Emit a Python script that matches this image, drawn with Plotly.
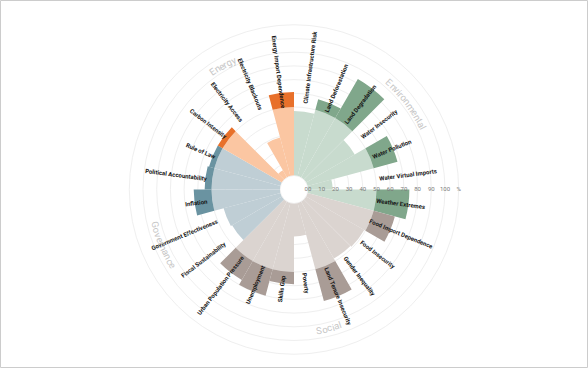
import math
import plotly.graph_objects as go

# ---------------- data ----------------
env_categories = ["Climate Infrastructure Risk", "Land Deforestation", "Land Degradation",
                  "Water Insecurity", "Water Pollution", "Water Virtual Imports", "Weather Extremes"]
env_values = [47, 58, 83, 41, 68, 18, 74]

soc_categories = ["Food Import Dependence", "Food Insecurity", "Gender Inequality",
                  "Land Tenure Insecurity", "Poverty", "Skills Gap", "Unemployment",
                  "Urban Population Pressure"]
soc_values = [66, 49, 48, 74, 24, 59, 70, 66]

gov_categories = ["Fiscal Sustainability", "Government Effectiveness", "Inflation",
                  "Political Accountability", "Rule of Law"]
gov_values = [42, 43, 63, 55, 54]

ene_categories = ["Carbon Intensity", "Electricity Access", "Electricity Blackouts",
                  "Energy Import Dependence"]
ene_values = [54, 6, 29, 61]

group_names = ["Environmental", "Social", "Governance", "Energy"]
threshold = 50

tick_values = [0, 10, 20, 30, 40, 50, 60, 70, 80, 90, 100, 110]
tick_labels = ["00", "10", "20", "30", "40", "50", "60", "70", "80", "90", "100", "%"]

# ---------------- styles / layout constants ----------------
light_colors = {"Environmental": "#c8dbce", "Social": "#dbd4d0",
                "Governance": "#bfced5", "Energy": "#fbc6a2"}
dark_colors = {"Environmental": "#80a78b", "Social": "#a99c96",
               "Governance": "#6a93a1", "Energy": "#e8702a"}
group_label_angle = {"Environmental": 52.8, "Social": 165.8, "Governance": 247.0, "Energy": 330.0}

W, H = 588, 368
CX, CY = 294.0, 189.5
R_HOLE = 14.0
PX_PER_UNIT = 1.37
R_MAX = 110
R_OUT = R_HOLE + PX_PER_UNIT * R_MAX
STEP = 15.0

groups = [
    ("Environmental", env_categories, env_values),
    ("Social", soc_categories, soc_values),
    ("Governance", gov_categories, gov_values),
    ("Energy", ene_categories, ene_values),
]


def to_paper(phi_deg, r_px):
    p = math.radians(phi_deg)
    x = CX + r_px * math.sin(p)
    y = CY - r_px * math.cos(p)
    return x / W, 1 - y / H


fig = go.Figure()
annotations = []

idx = 0
for gname, cats, vals in groups:
    thetas = [STEP / 2 + STEP * (idx + k) for k in range(len(cats))]
    base_r = [min(v, threshold) for v in vals]
    excess_r = [max(v - threshold, 0) for v in vals]
    fig.add_trace(go.Barpolar(r=base_r, theta=thetas, width=[STEP] * len(cats),
                              marker=dict(color=light_colors[gname], line=dict(width=0)),
                              name=gname, hoverinfo="skip", showlegend=False))
    fig.add_trace(go.Barpolar(r=excess_r, theta=thetas, width=[STEP] * len(cats),
                              base=[threshold] * len(cats),
                              marker=dict(color=dark_colors[gname], line=dict(width=0)),
                              name=gname, hoverinfo="skip", showlegend=False))
    # category labels
    for name, phi in zip(cats, thetas):
        rc = 86 + 1.36 * len(name)
        x, y = to_paper(phi, rc)
        ang = phi - 90 if phi < 180 else phi - 270
        annotations.append(dict(x=x, y=y, xref="paper", yref="paper", text=name,
                                showarrow=False, textangle=ang, xanchor="center", yanchor="middle",
                                font=dict(family="Roboto", size=6, color="#151515", weight="bold")))
    idx += len(cats)

# radial tick labels along the 90 degree direction
fig.add_trace(go.Scatterpolar(r=tick_values, theta=[90] * len(tick_values), mode="text",
                              text=tick_labels, cliponaxis=False,
                              textfont=dict(family="Roboto", size=6, color="#7a7a7a"),
                              hoverinfo="skip", showlegend=False))

# curved group labels
char_w = {'E': 0.56, 'n': 0.552, 'e': 0.53, 'r': 0.338, 'g': 0.561, 'y': 0.474, 'v': 0.484,
          'i': 0.242, 'o': 0.557, 'm': 0.876, 't': 0.326, 'a': 0.532, 'l': 0.242, 'S': 0.594,
          'c': 0.523, 'G': 0.667, 's': 0.515}
FS = 9.5
R_LAB = 143.0
for gname in group_names:
    phi0 = group_label_angle[gname]
    top = (phi0 < 90) or (phi0 > 270)
    d = 1 if top else -1
    widths = [char_w.get(c, 0.55) * FS for c in gname]
    total = sum(widths)
    s = 0.0
    for c, w in zip(gname, widths):
        center = s + w / 2
        off = math.degrees((center - total / 2) / R_LAB)
        phi = phi0 + d * off
        x, y = to_paper(phi, R_LAB)
        ang = phi if top else phi - 180
        annotations.append(dict(x=x, y=y, xref="paper", yref="paper", text=c, showarrow=False,
                                textangle=ang, xanchor="center", yanchor="middle",
                                font=dict(family="Roboto", size=FS, color="#c6c6c6")))
        s += w

fig.update_layout(
    width=W, height=H,
    margin=dict(l=0, r=0, t=0, b=0),
    paper_bgcolor="white",
    plot_bgcolor="white",
    showlegend=False,
    polar=dict(
        domain=dict(x=[(CX - R_OUT) / W, (CX + R_OUT) / W],
                    y=[1 - (CY + R_OUT) / H, 1 - (CY - R_OUT) / H]),
        hole=R_HOLE / R_OUT,
        bgcolor="white",
        bargap=0,
        radialaxis=dict(range=[0, R_MAX], tickvals=tick_values, showticklabels=False, ticks="",
                        showline=False, gridcolor="#efefef", gridwidth=1, layer="below traces",
                        angle=0),
        angularaxis=dict(rotation=90, direction="clockwise", showgrid=False,
                         showticklabels=False, ticks="", showline=True, linecolor="#efefef",
                         layer="below traces"),
    ),
    annotations=annotations,
    shapes=[dict(type="rect", xref="paper", yref="paper",
                 x0=0.5 / W, x1=1 - 0.5 / W, y0=0.5 / H, y1=1 - 0.5 / H,
                 line=dict(color="#cccccc", width=1))],
)

fig.write_html("out.html")
